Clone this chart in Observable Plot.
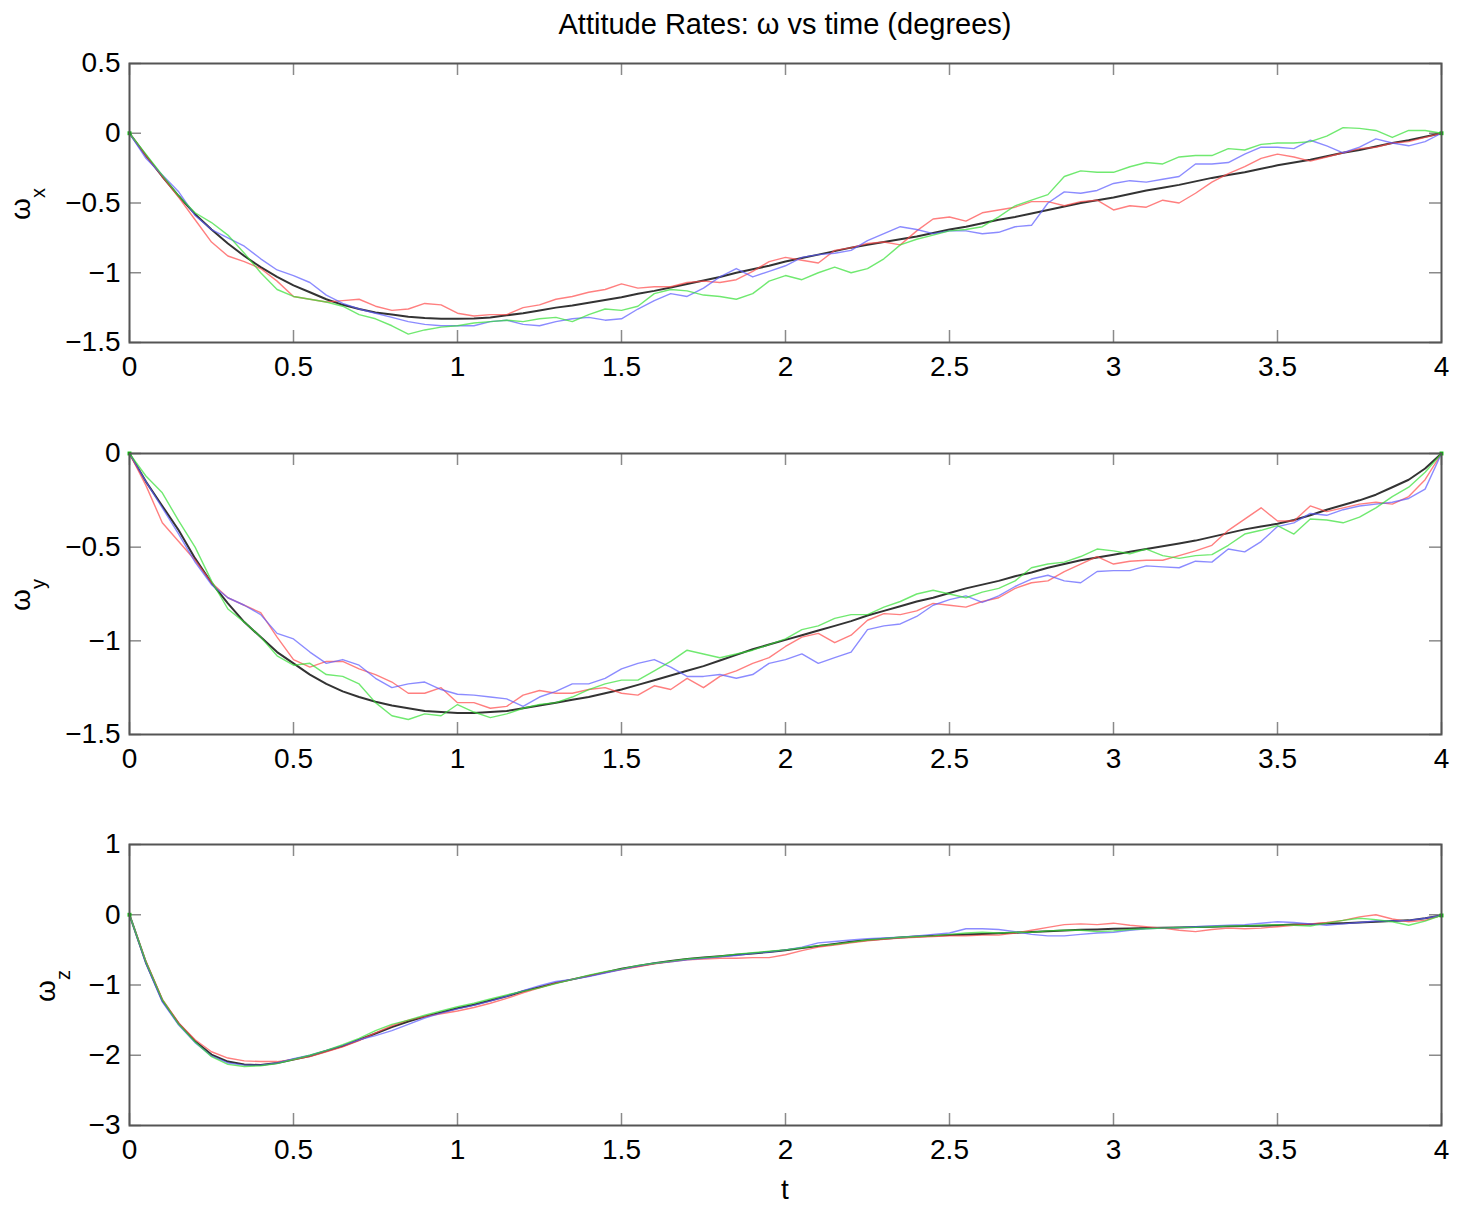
<!DOCTYPE html>
<html><head><meta charset="utf-8">
<script src="https://cdn.jsdelivr.net/npm/d3@7"></script>
<script src="https://cdn.jsdelivr.net/npm/@observablehq/plot@0.6"></script>
<style>
body{margin:0;background:#fff;}
#wrap{position:relative;width:1459px;height:1214px;font-family:"Liberation Sans",Arial,Helvetica,sans-serif;overflow:hidden;background:#fff;}
#wrap svg{position:absolute;left:0;}
#title{position:absolute;left:129px;width:1312px;top:10px;text-align:center;font-size:29px;line-height:1;color:#000;z-index:2;}
</style></head><body>
<div id="wrap"><div id="title"></div></div>
<script>
const titleText = "Attitude Rates: ω vs time (degrees)";
const xTicks = [0, 0.5, 1, 1.5, 2, 2.5, 3, 3.5, 4];
const yTicksX = [-1.5, -1, -0.5, 0, 0.5];
const yTicksY = [-1.5, -1, -0.5, 0];
const yTicksZ = [-3, -2, -1, 0, 1];

const T = [0,0.05,0.1,0.15,0.2,0.25,0.3,0.35,0.4,0.45,
0.5,0.55,0.6,0.65,0.7,0.75,0.8,0.85,0.9,0.95,
1,1.05,1.1,1.15,1.2,1.25,1.3,1.35,1.4,1.45,
1.5,1.55,1.6,1.65,1.7,1.75,1.8,1.85,1.9,1.95,
2,2.05,2.1,2.15,2.2,2.25,2.3,2.35,2.4,2.45,
2.5,2.55,2.6,2.65,2.7,2.75,2.8,2.85,2.9,2.95,
3,3.05,3.1,3.15,3.2,3.25,3.3,3.35,3.4,3.45,
3.5,3.55,3.6,3.65,3.7,3.75,3.8,3.85,3.9,3.95,
4];

// ω_x
const blackX = [0,-0.16,-0.31,-0.45,-0.58,-0.69,-0.79,-0.88,-0.96,-1.03,
-1.09,-1.14,-1.19,-1.23,-1.26,-1.285,-1.30,-1.315,-1.325,-1.33,
-1.33,-1.328,-1.32,-1.305,-1.29,-1.27,-1.25,-1.235,-1.215,-1.195,
-1.175,-1.15,-1.13,-1.105,-1.08,-1.055,-1.03,-1.0,-0.975,-0.95,
-0.92,-0.895,-0.87,-0.845,-0.82,-0.80,-0.78,-0.76,-0.74,-0.715,
-0.69,-0.67,-0.645,-0.62,-0.60,-0.575,-0.55,-0.525,-0.50,-0.48,
-0.46,-0.435,-0.41,-0.39,-0.37,-0.345,-0.32,-0.30,-0.28,-0.255,
-0.23,-0.21,-0.19,-0.165,-0.14,-0.12,-0.095,-0.07,-0.05,-0.025,
0];
const redX = [0,-0.16,-0.31,-0.46,-0.62,-0.78,-0.88,-0.92,-0.97,-1.06,
-1.17,-1.19,-1.21,-1.20,-1.19,-1.24,-1.27,-1.26,-1.22,-1.23,
-1.29,-1.31,-1.30,-1.30,-1.25,-1.23,-1.19,-1.17,-1.14,-1.12,
-1.08,-1.11,-1.10,-1.10,-1.07,-1.06,-1.07,-1.05,-0.99,-0.92,
-0.89,-0.91,-0.93,-0.84,-0.82,-0.79,-0.78,-0.80,-0.70,-0.615,
-0.60,-0.63,-0.57,-0.55,-0.53,-0.49,-0.49,-0.52,-0.49,-0.48,
-0.55,-0.52,-0.53,-0.48,-0.50,-0.43,-0.35,-0.29,-0.24,-0.18,
-0.15,-0.17,-0.20,-0.17,-0.14,-0.11,-0.10,-0.07,-0.06,-0.03,
0];
const blueX = [0,-0.18,-0.30,-0.42,-0.59,-0.69,-0.75,-0.81,-0.90,-0.98,
-1.02,-1.07,-1.16,-1.22,-1.26,-1.29,-1.32,-1.35,-1.37,-1.38,
-1.38,-1.38,-1.35,-1.34,-1.37,-1.38,-1.35,-1.33,-1.32,-1.34,
-1.33,-1.26,-1.20,-1.15,-1.17,-1.11,-1.03,-0.97,-1.03,-0.99,
-0.95,-0.89,-0.87,-0.86,-0.84,-0.77,-0.72,-0.67,-0.69,-0.72,
-0.70,-0.70,-0.72,-0.71,-0.67,-0.66,-0.50,-0.42,-0.43,-0.41,
-0.36,-0.34,-0.35,-0.33,-0.31,-0.22,-0.22,-0.21,-0.15,-0.10,
-0.10,-0.11,-0.05,-0.09,-0.14,-0.10,-0.04,-0.07,-0.09,-0.06,
0];
const greenX = [0,-0.15,-0.30,-0.45,-0.57,-0.64,-0.73,-0.86,-1.0,-1.12,
-1.17,-1.19,-1.21,-1.24,-1.30,-1.33,-1.38,-1.44,-1.41,-1.39,
-1.38,-1.36,-1.35,-1.34,-1.35,-1.33,-1.32,-1.35,-1.30,-1.26,
-1.27,-1.24,-1.15,-1.12,-1.13,-1.16,-1.17,-1.19,-1.15,-1.06,
-1.02,-1.05,-1.0,-0.96,-1.0,-0.97,-0.90,-0.80,-0.76,-0.73,
-0.70,-0.69,-0.67,-0.60,-0.52,-0.48,-0.44,-0.31,-0.27,-0.28,
-0.28,-0.24,-0.21,-0.22,-0.17,-0.16,-0.16,-0.11,-0.12,-0.08,
-0.07,-0.07,-0.06,-0.02,0.04,0.035,0.02,-0.03,0.02,0.02,
0];

// ω_y
const blackY = [0,-0.15,-0.28,-0.41,-0.56,-0.69,-0.80,-0.90,-0.98,-1.06,
-1.12,-1.18,-1.23,-1.27,-1.30,-1.325,-1.345,-1.36,-1.375,-1.38,
-1.385,-1.385,-1.38,-1.375,-1.36,-1.345,-1.33,-1.315,-1.30,-1.28,
-1.26,-1.235,-1.21,-1.185,-1.16,-1.135,-1.105,-1.075,-1.045,-1.02,
-0.995,-0.97,-0.945,-0.92,-0.895,-0.865,-0.84,-0.815,-0.79,-0.77,
-0.745,-0.72,-0.70,-0.68,-0.655,-0.635,-0.61,-0.59,-0.57,-0.555,
-0.54,-0.525,-0.51,-0.495,-0.48,-0.465,-0.445,-0.425,-0.405,-0.39,
-0.375,-0.355,-0.33,-0.30,-0.275,-0.25,-0.22,-0.18,-0.14,-0.08,
0];
const redY = [0,-0.17,-0.37,-0.47,-0.57,-0.69,-0.77,-0.81,-0.85,-0.98,
-1.10,-1.14,-1.11,-1.11,-1.15,-1.18,-1.22,-1.28,-1.28,-1.25,
-1.33,-1.33,-1.36,-1.35,-1.29,-1.265,-1.28,-1.28,-1.26,-1.25,
-1.28,-1.29,-1.24,-1.26,-1.20,-1.25,-1.19,-1.16,-1.12,-1.09,
-1.03,-0.98,-0.96,-1.01,-0.97,-0.89,-0.855,-0.86,-0.84,-0.80,
-0.81,-0.82,-0.79,-0.77,-0.72,-0.69,-0.68,-0.63,-0.59,-0.55,
-0.59,-0.575,-0.57,-0.57,-0.545,-0.52,-0.49,-0.41,-0.35,-0.29,
-0.36,-0.36,-0.28,-0.31,-0.29,-0.27,-0.26,-0.27,-0.23,-0.14,
0];
const blueY = [0,-0.15,-0.29,-0.43,-0.58,-0.70,-0.77,-0.81,-0.86,-0.96,
-0.99,-1.06,-1.12,-1.10,-1.13,-1.20,-1.25,-1.23,-1.22,-1.26,
-1.285,-1.29,-1.30,-1.31,-1.35,-1.30,-1.27,-1.23,-1.23,-1.20,
-1.15,-1.12,-1.10,-1.14,-1.19,-1.19,-1.18,-1.20,-1.18,-1.12,
-1.10,-1.07,-1.12,-1.09,-1.06,-0.94,-0.92,-0.91,-0.87,-0.81,
-0.78,-0.76,-0.795,-0.76,-0.71,-0.67,-0.65,-0.68,-0.69,-0.63,
-0.625,-0.625,-0.60,-0.605,-0.61,-0.575,-0.58,-0.51,-0.525,-0.47,
-0.39,-0.37,-0.32,-0.33,-0.30,-0.28,-0.27,-0.26,-0.24,-0.19,
0];
const greenY = [0,-0.12,-0.21,-0.36,-0.50,-0.68,-0.83,-0.90,-0.98,-1.08,
-1.13,-1.12,-1.18,-1.19,-1.23,-1.33,-1.40,-1.42,-1.39,-1.40,
-1.34,-1.38,-1.41,-1.39,-1.36,-1.34,-1.33,-1.30,-1.26,-1.23,
-1.21,-1.21,-1.16,-1.11,-1.05,-1.07,-1.09,-1.07,-1.05,-1.02,
-0.99,-0.94,-0.92,-0.88,-0.86,-0.86,-0.82,-0.79,-0.75,-0.73,
-0.75,-0.77,-0.74,-0.72,-0.68,-0.61,-0.59,-0.58,-0.55,-0.51,
-0.52,-0.535,-0.51,-0.545,-0.56,-0.545,-0.54,-0.49,-0.43,-0.41,
-0.385,-0.43,-0.35,-0.355,-0.37,-0.34,-0.29,-0.23,-0.18,-0.10,
0];

// ω_z
const blackZ = [0,-0.68,-1.22,-1.55,-1.80,-1.99,-2.09,-2.13,-2.14,-2.11,
-2.06,-2.01,-1.94,-1.87,-1.78,-1.69,-1.60,-1.52,-1.45,-1.39,
-1.33,-1.28,-1.22,-1.16,-1.09,-1.03,-0.97,-0.92,-0.87,-0.82,
-0.77,-0.73,-0.69,-0.66,-0.63,-0.61,-0.59,-0.57,-0.55,-0.53,
-0.505,-0.475,-0.445,-0.415,-0.385,-0.36,-0.34,-0.325,-0.31,-0.30,
-0.29,-0.28,-0.275,-0.265,-0.255,-0.245,-0.235,-0.225,-0.215,-0.21,
-0.20,-0.195,-0.19,-0.185,-0.18,-0.175,-0.17,-0.165,-0.16,-0.155,
-0.15,-0.14,-0.135,-0.125,-0.12,-0.11,-0.10,-0.09,-0.08,-0.05,
-0.01];
const redZ = [0,-0.66,-1.20,-1.54,-1.78,-1.95,-2.04,-2.08,-2.09,-2.09,
-2.06,-2.02,-1.95,-1.88,-1.79,-1.68,-1.58,-1.50,-1.45,-1.41,
-1.37,-1.32,-1.26,-1.19,-1.11,-1.04,-0.97,-0.92,-0.87,-0.82,
-0.78,-0.74,-0.70,-0.67,-0.64,-0.63,-0.62,-0.62,-0.61,-0.61,
-0.57,-0.51,-0.46,-0.43,-0.40,-0.37,-0.35,-0.33,-0.32,-0.31,
-0.30,-0.30,-0.29,-0.29,-0.26,-0.22,-0.18,-0.14,-0.13,-0.14,
-0.12,-0.15,-0.17,-0.19,-0.22,-0.24,-0.21,-0.19,-0.20,-0.19,
-0.17,-0.15,-0.13,-0.11,-0.08,-0.03,0.0,-0.06,-0.10,-0.08,
-0.01];
const blueZ = [0,-0.69,-1.24,-1.57,-1.82,-2.01,-2.11,-2.14,-2.14,-2.11,
-2.05,-2.00,-1.93,-1.86,-1.78,-1.72,-1.65,-1.56,-1.47,-1.40,
-1.34,-1.29,-1.23,-1.16,-1.08,-1.01,-0.95,-0.92,-0.88,-0.83,
-0.78,-0.73,-0.69,-0.67,-0.64,-0.62,-0.60,-0.58,-0.55,-0.53,
-0.50,-0.46,-0.40,-0.38,-0.36,-0.34,-0.33,-0.32,-0.30,-0.28,
-0.26,-0.20,-0.20,-0.21,-0.24,-0.28,-0.30,-0.30,-0.28,-0.26,
-0.25,-0.22,-0.20,-0.19,-0.18,-0.17,-0.16,-0.15,-0.14,-0.12,
-0.10,-0.11,-0.13,-0.15,-0.13,-0.11,-0.09,-0.09,-0.08,-0.05,
-0.01];
const greenZ = [0,-0.67,-1.21,-1.56,-1.81,-2.02,-2.13,-2.16,-2.15,-2.12,
-2.06,-2.00,-1.93,-1.85,-1.76,-1.65,-1.56,-1.50,-1.43,-1.37,
-1.31,-1.26,-1.20,-1.14,-1.09,-1.04,-0.98,-0.92,-0.86,-0.81,
-0.77,-0.72,-0.69,-0.66,-0.63,-0.61,-0.59,-0.56,-0.54,-0.52,
-0.50,-0.47,-0.44,-0.42,-0.39,-0.36,-0.34,-0.32,-0.31,-0.30,
-0.28,-0.26,-0.25,-0.26,-0.25,-0.25,-0.23,-0.22,-0.22,-0.24,
-0.23,-0.21,-0.20,-0.19,-0.18,-0.18,-0.17,-0.16,-0.16,-0.15,
-0.14,-0.15,-0.16,-0.12,-0.08,-0.05,-0.07,-0.10,-0.15,-0.09,
-0.01];

const FONT = '"Liberation Sans", Arial, Helvetica, sans-serif';
const fmt = d => d < 0 ? "\u2212" + Math.abs(d) : String(d);
const wrap = document.getElementById("wrap");
document.getElementById("title").textContent = titleText;

function panel(o) {
  const W = 1459, ml = 129, mr = 18;
  const ph = o.height - o.mt - o.mb, pw = W - ml - mr;
  const tk = {stroke: "#8a8a8a", strokeWidth: 1.5};
  const s = o.series;
  const svg = Plot.plot({
    width: W, height: o.height,
    marginLeft: ml, marginRight: mr, marginTop: o.mt, marginBottom: o.mb,
    style: {fontFamily: FONT, fontSize: "28px", color: "#000", background: "transparent"},
    x: {domain: [0, 4], ticks: xTicks, tickSize: 0, tickPadding: 14, tickFormat: fmt, label: null},
    y: {domain: o.yDomain, ticks: o.yTicks, tickSize: 0, tickPadding: 9, tickFormat: fmt, label: null},
    marks: [
      Plot.tickX(xTicks, {x: d => d, insetBottom: ph - 12, ...tk}),
      Plot.tickX(xTicks, {x: d => d, insetTop: ph - 12, ...tk}),
      Plot.tickY(o.yTicks, {y: d => d, insetRight: pw - 12, ...tk}),
      Plot.tickY(o.yTicks, {y: d => d, insetLeft: pw - 12, ...tk}),
      Plot.line(T, {x: d => d, y: s.k, stroke: "#333333", strokeWidth: 2}),
      Plot.line(T, {x: d => d, y: s.r, stroke: "#ff4848", strokeWidth: 1.4, strokeOpacity: 0.7}),
      Plot.line(T, {x: d => d, y: s.b, stroke: "#5a5aff", strokeWidth: 1.4, strokeOpacity: 0.7}),
      Plot.line(T, {x: d => d, y: s.g, stroke: "#33e033", strokeWidth: 1.4, strokeOpacity: 0.7}),
      Plot.dot([0, T.length - 1], {x: i => T[i], y: i => s.g[i], r: 2.2, fill: "#00c000", symbol: "square"}),
      Plot.frame({stroke: "#555", strokeWidth: 2})
    ]
  });
  svg.style.top = o.top + "px";
  const sel = d3.select(svg);
  const lab = sel.append("text")
    .attr("transform", `translate(${o.labelX},${o.labelY}) rotate(-90)`)
    .attr("text-anchor", "middle").attr("font-size", 28).attr("fill", "#000")
    .attr("font-family", FONT);
  lab.append("tspan").text("ω");
  lab.append("tspan").attr("font-size", 20).attr("dy", 15).text(o.sub);
  if (o.xlabel) {
    sel.append("text").attr("x", 785).attr("y", o.xlabelY)
      .attr("text-anchor", "middle").attr("font-size", 28).attr("fill", "#000")
      .attr("font-family", FONT).text(o.xlabel);
  }
  wrap.appendChild(svg);
}

panel({top: 0, height: 400, mt: 63, mb: 58, yDomain: [-1.5, 0.5], yTicks: yTicksX,
  series: {k: blackX, r: redX, b: blueX, g: greenX}, sub: "x", labelX: 30, labelY: 204});
panel({top: 400, height: 390, mt: 53, mb: 56, yDomain: [-1.5, 0], yTicks: yTicksY,
  series: {k: blackY, r: redY, b: blueY, g: greenY}, sub: "y", labelX: 30, labelY: 195});
panel({top: 790, height: 424, mt: 54, mb: 89, yDomain: [-3, 1], yTicks: yTicksZ,
  series: {k: blackZ, r: redZ, b: blueZ, g: greenZ}, sub: "z", labelX: 55, labelY: 196,
  xlabel: "t", xlabelY: 409});
</script>
</body></html>
